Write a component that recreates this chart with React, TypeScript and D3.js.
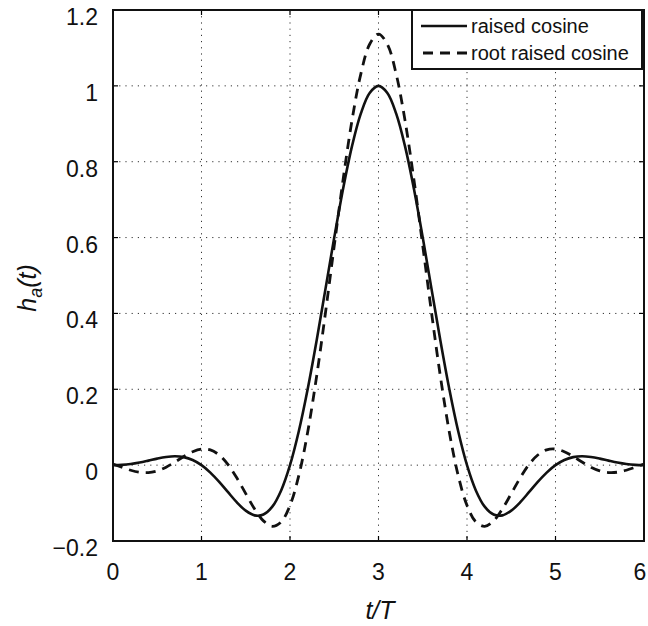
import React from "react";
import * as d3 from "d3";

const tValues = [
  0, 0.1, 0.2, 0.3, 0.4, 0.5, 0.6, 0.7, 0.8, 0.9,
  1, 1.1, 1.2, 1.3, 1.4, 1.5, 1.6, 1.7, 1.8, 1.9,
  2, 2.1, 2.2, 2.3, 2.4, 2.5, 2.6, 2.7, 2.8, 2.9,
  3, 3.1, 3.2, 3.3, 3.4, 3.5, 3.6, 3.7, 3.8, 3.9,
  4, 4.1, 4.2, 4.3, 4.4, 4.5, 4.6, 4.7, 4.8, 4.9,
  5, 5.1, 5.2, 5.3, 5.4, 5.5, 5.6, 5.7, 5.8, 5.9, 6,
];

const raisedCosine = [
  0, 0.0007, 0.003, 0.0069, 0.0119, 0.0172, 0.0214, 0.0233, 0.0211, 0.0136,
  0, -0.0196, -0.0441, -0.0714, -0.0981, -0.12, -0.1324, -0.1303, -0.1095, -0.0666,
  0, 0.09, 0.2008, 0.3275, 0.4634, 0.6002, 0.7289, 0.8405, 0.9268, 0.9813,
  1, 0.9813, 0.9268, 0.8405, 0.7289, 0.6002, 0.4634, 0.3275, 0.2008, 0.09,
  0, -0.0666, -0.1095, -0.1303, -0.1324, -0.12, -0.0981, -0.0714, -0.0441, -0.0196,
  0, 0.0136, 0.0211, 0.0233, 0.0214, 0.0172, 0.0119, 0.0069, 0.003, 0.0007, 0,
];

const rootRaisedCosine = [
  0.003, -0.0055, -0.0134, -0.0186, -0.0195, -0.015, -0.0054, 0.0081, 0.0228, 0.0355,
  0.0424, 0.0403, 0.0267, 0.0014, -0.034, -0.075, -0.1154, -0.147, -0.1612, -0.1497,
  -0.1061, -0.0269, 0.0876, 0.2329, 0.4006, 0.5786, 0.7529, 0.9083, 1.031, 1.1096,
  1.1366, 1.1096, 1.031, 0.9083, 0.7529, 0.5786, 0.4006, 0.2329, 0.0876, -0.0269,
  -0.1061, -0.1497, -0.1612, -0.147, -0.1154, -0.075, -0.034, 0.0014, 0.0267, 0.0403,
  0.0424, 0.0355, 0.0228, 0.0081, -0.0054, -0.015, -0.0195, -0.0186, -0.0134, -0.0055, 0.003,
];

const xTicks = [0, 1, 2, 3, 4, 5, 6];
const yTicks = [-0.2, 0, 0.2, 0.4, 0.6, 0.8, 1, 1.2];
const seriesNames = ["raised cosine", "root raised cosine"];

const W = 648;
const H = 626;
const M = { left: 113, right: 644, top: 10, bottom: 541 };
const FONT = "'Liberation Sans', Arial, Helvetica, sans-serif";

function fmtY(v: number) {
  if (Math.abs(v) < 1e-9) return "0";
  const s = d3.format("~g")(+v.toFixed(1));
  return s.replace("-", "\u2212");
}

export default function App() {
  const x = d3.scaleLinear().domain([0, 6]).range([M.left, M.right]);
  const y = d3.scaleLinear().domain([-0.2, 1.2]).range([M.bottom, M.top]);

  const line = d3
    .line<number>()
    .x((_, i) => x(tValues[i]))
    .y((d) => y(d))
    .curve(d3.curveCatmullRom.alpha(0.5));

  const rcPath = line(raisedCosine) || "";
  const rrcPath = line(rootRaisedCosine) || "";

  const lg = { x0: 412, x1: 642, y0: 10, y1: 69 };

  return (
    <svg
      width={W}
      height={H}
      style={{ position: "absolute", left: 0, top: 0, background: "#fff" }}
      fontFamily={FONT}
    >
      <rect x={0} y={0} width={W} height={H} fill="#fff" />
      <defs>
        <clipPath id="plotclip">
          <rect x={M.left} y={M.top} width={M.right - M.left} height={M.bottom - M.top} />
        </clipPath>
      </defs>
      {/* grid */}
      <g stroke="#333" strokeWidth={1} strokeDasharray="1.2,5">
        {xTicks.slice(1, -1).map((t) => (
          <line key={"gx" + t} x1={x(t)} x2={x(t)} y1={M.top} y2={M.bottom} />
        ))}
        {yTicks.slice(1, -1).map((t) => (
          <line key={"gy" + t} x1={M.left} x2={M.right} y1={y(t)} y2={y(t)} />
        ))}
      </g>
      {/* ticks */}
      <g stroke="#000" strokeWidth={1.2}>
        {xTicks.map((t) => (
          <g key={"tx" + t}>
            <line x1={x(t)} x2={x(t)} y1={M.bottom} y2={M.bottom - 5} />
            <line x1={x(t)} x2={x(t)} y1={M.top} y2={M.top + 5} />
          </g>
        ))}
        {yTicks.map((t) => (
          <g key={"ty" + t}>
            <line x1={M.left} x2={M.left + 5} y1={y(t)} y2={y(t)} />
            <line x1={M.right} x2={M.right - 5} y1={y(t)} y2={y(t)} />
          </g>
        ))}
      </g>
      {/* curves */}
      <g clipPath="url(#plotclip)" fill="none" stroke="#111">
        <path d={rcPath} strokeWidth={2.6} />
        <path d={rrcPath} strokeWidth={2.8} strokeDasharray="10,7" />
      </g>
      {/* axes box */}
      <rect
        x={M.left}
        y={M.top}
        width={M.right - M.left}
        height={M.bottom - M.top}
        fill="none"
        stroke="#111"
        strokeWidth={2}
      />
      {/* tick labels */}
      <g fontSize={23} fill="#111">
        {xTicks.map((t, i) => (
          <text
            key={"lx" + t}
            x={i === xTicks.length - 1 ? x(t) - 4 : x(t)}
            y={580}
            textAnchor="middle"
          >
            {String(t)}
          </text>
        ))}
        {yTicks.map((t) => (
          <text key={"ly" + t} x={98} y={y(t) + 15} textAnchor="end">
            {fmtY(t)}
          </text>
        ))}
      </g>
      {/* axis labels */}
      <text x={380} y={619} textAnchor="middle" fontSize={25} fontStyle="italic" fill="#111">
        t/T
      </text>
      <text
        transform={`translate(36,288) rotate(-90)`}
        textAnchor="middle"
        fontSize={25}
        fontStyle="italic"
        fill="#111"
      >
        h
        <tspan fontSize={18} dy={6}>a</tspan>
        <tspan dy={-6}>(t)</tspan>
      </text>
      {/* legend */}
      <g>
        <rect
          x={lg.x0}
          y={lg.y0}
          width={lg.x1 - lg.x0}
          height={lg.y1 - lg.y0}
          fill="#fff"
          stroke="#111"
          strokeWidth={2}
        />
        <line x1={421} x2={467} y1={26} y2={26} stroke="#111" strokeWidth={2.6} />
        <line x1={421} x2={467} y1={53} y2={53} stroke="#111" strokeWidth={2.8} strokeDasharray="10,7" strokeDashoffset={-2} />
        <text x={471} y={33} fontSize={20} fill="#111">{seriesNames[0]}</text>
        <text x={471} y={60} fontSize={20} fill="#111">{seriesNames[1]}</text>
      </g>
    </svg>
  );
}
